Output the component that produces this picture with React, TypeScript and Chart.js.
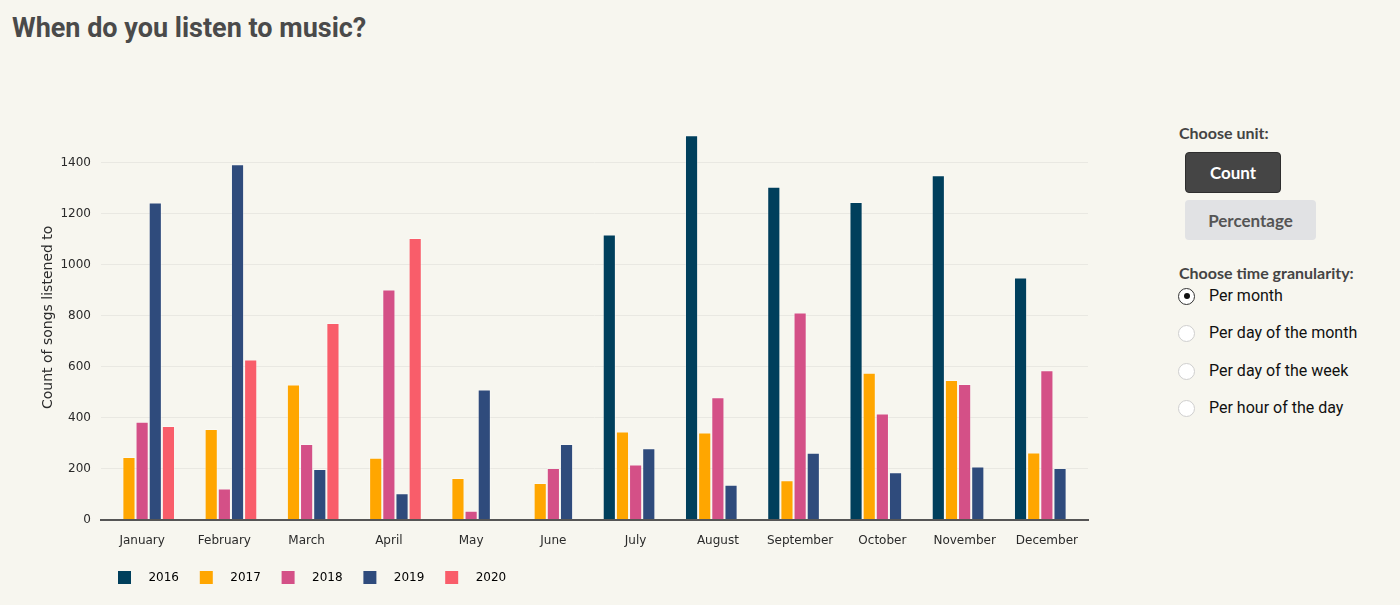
// Grouped bar chart of songs listened to per month, split by year
import { useEffect, useRef } from 'react';
import { Chart, registerables } from 'chart.js';

Chart.register(...registerables);

const months = [
	'January', 'February', 'March', 'April', 'May', 'June',
	'July', 'August', 'September', 'October', 'November', 'December',
];
const years = ['2016', '2017', '2018', '2019', '2020'];
const yearColors = ['#003f5c', '#ffa600', '#d45087', '#2f4b7c', '#f95d6a'];

const counts2016 = [null, null, null, null, null, null, 1118, 1507, 1305, 1245, 1350, 949];
const counts2017 = [245, 355, 530, 242, 163, 143, 345, 341, 154, 576, 547, 263];
const counts2018 = [384, 122, 296, 902, 35, 202, 216, 480, 812, 416, 532, 585];
const counts2019 = [1243, 1393, 198, 103, 510, 296, 280, 137, 262, 186, 208, 202];
const counts2020 = [367, 628, 771, 1104, null, null, null, null, null, null, null, null];

const seriesByYear = [counts2016, counts2017, counts2018, counts2019, counts2020];

const yTicks = [0, 200, 400, 600, 800, 1000, 1200, 1400];

const unitOptions = ['Count', 'Percentage'];
const granularityOptions = ['Per month', 'Per day of the month', 'Per day of the week', 'Per hour of the day'];

const BG = '#f7f6ef';

export default function App() {
	const canvasRef = useRef<HTMLCanvasElement>(null);

	useEffect(() => {
		document.body.style.margin = '0';
		document.body.style.background = BG;
		if (!canvasRef.current) return;
		const ctx = canvasRef.current.getContext('2d');
		if (!ctx) return;

		const chart = new Chart(ctx, {
			type: 'bar',
			data: {
				labels: months,
				datasets: years.map((y, i) => ({
					label: y,
					data: seriesByYear[i],
					backgroundColor: yearColors[i],
					borderColor: 'rgba(255,255,255,0.35)',
					borderWidth: 1,
					categoryPercentage: 0.8,
					barPercentage: 1.0,
				})),
			},
			options: {
				animation: false,
				responsive: true,
				maintainAspectRatio: false,
				layout: { padding: { top: 55, left: 36, right: 22, bottom: 11 } },
				plugins: {
					tooltip: { enabled: false },
					legend: {
						position: 'bottom',
						align: 'start',
						fullSize: false,
						labels: {
							boxWidth: 13,
							boxHeight: 13,
							padding: 17,
							color: '#2a2a2a',
							font: { family: 'DejaVu Sans', size: 12 },
							generateLabels: (c) =>
								c.data.datasets.map((ds, i) => ({
									text: '   ' + ds.label + ' ',
									fillStyle: yearColors[i],
									strokeStyle: yearColors[i],
									lineWidth: 0,
									hidden: false,
									datasetIndex: i,
								})),
						},
					},
				},
				scales: {
					x: {
						grid: { display: false, drawTicks: false },
						border: { display: true, color: '#555', width: 2 },
						ticks: {
							color: '#2a2a2a',
							padding: 14,
							font: { family: 'DejaVu Sans', size: 12 },
						},
						afterFit: (s) => {
							s.height -= 8;
						},
					},
					y: {
						min: 0,
						max: 1586,
						grid: { color: '#e9e8e2', drawTicks: false },
						border: { display: false },
						afterBuildTicks: (s) => {
							s.ticks = yTicks.map((v) => ({ value: v }));
						},
						ticks: {
							padding: 10,
							color: '#2a2a2a',
							font: { family: 'DejaVu Sans', size: 12 },
							callback: (v) => String(v),
						},
						title: {
							display: true,
							text: 'Count of songs listened to',
							color: '#2a2a2a',
							font: { family: 'DejaVu Sans', size: 14 },
						},
						afterFit: (s) => {
							s.width = 65;
						},
					},
				},
			},
		});

		return () => chart.destroy();
	}, []);

	return (
		<div style={{ position: 'relative', width: 1400, height: 605, background: BG, overflow: 'hidden' }}>
			<div
				style={{
					position: 'absolute',
					left: 12,
					top: 15,
					fontFamily: 'Roboto',
					fontWeight: 700,
					fontSize: 27,
					lineHeight: '27px',
					color: '#4a4a4a',
				}}
			>
				When do you listen to music?
			</div>

			<div style={{ position: 'absolute', left: 0, top: 60, width: 1110, height: 545 }}>
				<canvas ref={canvasRef}></canvas>
			</div>

			<div style={{ position: 'absolute', left: 1179, top: 0, width: 221, fontFamily: 'Lato' }}>
				<div style={{ position: 'absolute', top: 123, fontWeight: 700, fontSize: 16, color: '#444', whiteSpace: 'nowrap' }}>
					Choose unit:
				</div>
				<div
					style={{
						position: 'absolute',
						left: 6,
						top: 152,
						width: 96,
						height: 41,
						boxSizing: 'border-box',
						background: '#454545',
						border: '1px solid #2e2e2e',
						borderRadius: 4,
						color: '#fff',
						fontWeight: 700,
						fontSize: 17,
						display: 'flex',
						alignItems: 'center',
						justifyContent: 'center',
					}}
				>
					{unitOptions[0]}
				</div>
				<div
					style={{
						position: 'absolute',
						left: 6,
						top: 200,
						width: 131,
						height: 40,
						boxSizing: 'border-box',
						background: '#e1e2e4',
						borderRadius: 4,
						color: '#555',
						fontWeight: 700,
						fontSize: 17,
						display: 'flex',
						alignItems: 'center',
						justifyContent: 'center',
					}}
				>
					{unitOptions[1]}
				</div>
				<div style={{ position: 'absolute', top: 263, fontWeight: 700, fontSize: 16, color: '#444', whiteSpace: 'nowrap' }}>
					Choose time granularity:
				</div>
				{granularityOptions.map((g, i) => {
					const cy = [296, 333, 371, 408][i];
					return (
						<div key={g}>
							<div
								style={{
									position: 'absolute',
									left: -1,
									top: cy - 8.5,
									width: 17,
									height: 17,
									boxSizing: 'border-box',
									borderRadius: '50%',
									background: '#fff',
									border: i === 0 ? '1px solid #333' : '1px solid #cfcfcf',
								}}
							>
								{i === 0 && (
									<div
										style={{
											position: 'absolute',
											left: 4.5,
											top: 4.5,
											width: 6,
											height: 6,
											borderRadius: '50%',
											background: '#111',
										}}
									></div>
								)}
							</div>
							<div
								style={{
									position: 'absolute',
									left: 30,
									top: cy - 10,
									lineHeight: '20px',
									fontFamily: 'Roboto',
									fontSize: 16,
									color: '#111',
									whiteSpace: 'nowrap',
								}}
							>
								{g}
							</div>
						</div>
					);
				})}
			</div>
		</div>
	);
}
